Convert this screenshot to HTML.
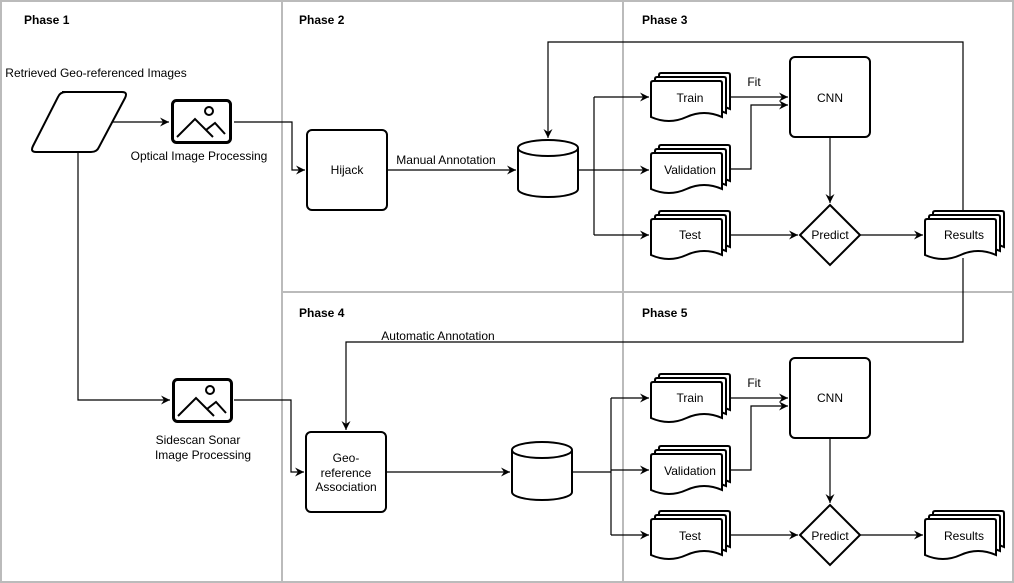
<!DOCTYPE html>
<html><head><meta charset="utf-8"><style>
html,body{margin:0;padding:0;background:#fff}
svg{display:block;font-family:"Liberation Sans",sans-serif}
</style></head><body>
<svg width="1014" height="583" viewBox="0 0 1014 583" xmlns="http://www.w3.org/2000/svg">
<defs>
<marker id="a" markerWidth="10" markerHeight="10" refX="9" refY="5" orient="auto" markerUnits="userSpaceOnUse">
<path d="M0,0.5 L9,5 L0,9.5 L3,5 Z" fill="#000"/></marker>
<g id="doc"><path d="M2,0 H69 Q71,0 71,2 V36 Q53,28 35.5,36 T0,36 V2 Q0,0 2,0 Z" fill="#fff" stroke="#000" stroke-width="2"/></g>
<g id="md"><use href="#doc" x="8" y="-8"/><use href="#doc" x="4" y="-4"/><use href="#doc"/></g>
<g id="img"><rect x="1.5" y="1.5" width="58" height="42" rx="4" fill="#fff" stroke="#000" stroke-width="3"/>
<circle cx="38" cy="12" r="4" fill="none" stroke="#000" stroke-width="2"/>
<polyline points="6,38 24,20 42,38" fill="none" stroke="#000" stroke-width="2"/>
<polyline points="35,31 44,24 54,35" fill="none" stroke="#000" stroke-width="2"/></g>
</defs>
<rect x="1" y="1" width="1012" height="581" fill="none" stroke="#bbb" stroke-width="2"/>
<line x1="282" y1="1" x2="282" y2="582" stroke="#bbb" stroke-width="2"/>
<line x1="623" y1="1" x2="623" y2="582" stroke="#bbb" stroke-width="2"/>
<line x1="282" y1="292" x2="1013" y2="292" stroke="#bbb" stroke-width="2"/>
<g font-size="12" font-weight="bold">
<text x="24" y="24">Phase 1</text><text x="299" y="24">Phase 2</text><text x="642" y="24">Phase 3</text>
<text x="299" y="317">Phase 4</text><text x="642" y="317">Phase 5</text></g>
<g fill="none" stroke="#000" stroke-width="1.2">
<path d="M112,122 H169" marker-end="url(#a)"/>
<path d="M234,122 H292 V170 H305" marker-end="url(#a)"/>
<path d="M78,152 V400 H170" marker-end="url(#a)"/>
<path d="M234,400 H291 V472 H304" marker-end="url(#a)"/>
<path d="M387,170 H516" marker-end="url(#a)"/>
<path d="M963,211 V42 H548 V138" marker-end="url(#a)"/>
<path d="M578,170 H594 M594,97 V235"/>
<path d="M594,97 H649" marker-end="url(#a)"/><path d="M594,170 H649" marker-end="url(#a)"/><path d="M594,235 H649" marker-end="url(#a)"/>
<path d="M730,97 H788" marker-end="url(#a)"/>
<path d="M730,169 H751 V105 H788" marker-end="url(#a)"/>
<path d="M830,137 V203" marker-end="url(#a)"/>
<path d="M730,235 H798" marker-end="url(#a)"/>
<path d="M860,235 H923" marker-end="url(#a)"/>
<path d="M963,258 V342 H346 V430" marker-end="url(#a)"/>
<path d="M386,472 H510" marker-end="url(#a)"/>
<path d="M572,472 H611 M611,398 V535"/>
<path d="M611,398 H649" marker-end="url(#a)"/><path d="M611,470 H649" marker-end="url(#a)"/><path d="M611,535 H649" marker-end="url(#a)"/>
<path d="M730,398 H788" marker-end="url(#a)"/>
<path d="M730,470 H751 V406 H788" marker-end="url(#a)"/>
<path d="M830,438 V503" marker-end="url(#a)"/>
<path d="M730,535 H798" marker-end="url(#a)"/>
<path d="M860,535 H923" marker-end="url(#a)"/>
</g>
<g fill="#fff" stroke="#000" stroke-width="2">
<path d="M62,92 H122 Q128,92 125,98 L99,147 Q97,152 91,152 H36 Q30,152 33,146 L58,97 Q60,92 66,92 Z"/>
<rect x="307" y="130" width="80" height="80" rx="5"/>
<rect x="306" y="432" width="80" height="80" rx="5"/>
<rect x="790" y="57" width="80" height="80" rx="5"/>
<rect x="790" y="358" width="80" height="80" rx="5"/>
<path d="M830,205 L860,235 L830,265 L800,235 Z"/>
<path d="M830,505 L860,535 L830,565 L800,535 Z"/>
<path d="M518,148 V189 A30,8 0 0 0 578,189 V148 A30,8 0 0 0 518,148 Z"/>
<path d="M518,148 A30,8 0 0 0 578,148" fill="none"/>
<path d="M512,450 V492 A30,8 0 0 0 572,492 V450 A30,8 0 0 0 512,450 Z"/>
<path d="M512,450 A30,8 0 0 0 572,450" fill="none"/>
</g>
<use href="#img" x="171" y="99"/>
<use href="#img" x="172" y="378"/>
<use href="#md" x="651" y="81"/><use href="#md" x="651" y="153"/><use href="#md" x="651" y="219"/><use href="#md" x="925" y="219"/>
<use href="#md" x="651" y="382"/><use href="#md" x="651" y="454"/><use href="#md" x="651" y="519"/><use href="#md" x="925" y="519"/>
<g font-size="12" text-anchor="middle" fill="#000">
<text x="96" y="77">Retrieved Geo-referenced Images</text>
<text x="199" y="160">Optical Image Processing</text>
<text x="198" y="444">Sidescan Sonar</text><text x="203" y="459">Image Processing</text>
<text x="347" y="174">Hijack</text>
<text x="446" y="164">Manual Annotation</text>
<text x="438" y="340">Automatic Annotation</text>
<text x="346" y="462">Geo-</text><text x="346" y="477">reference</text><text x="346" y="491">Association</text>
<text x="690" y="102">Train</text><text x="690" y="174">Validation</text><text x="690" y="239">Test</text><text x="964" y="239">Results</text>
<text x="690" y="402">Train</text><text x="690" y="475">Validation</text><text x="690" y="540">Test</text><text x="964" y="540">Results</text>
<text x="754" y="86">Fit</text><text x="754" y="387">Fit</text>
<text x="830" y="102">CNN</text><text x="830" y="402">CNN</text>
<text x="830" y="239">Predict</text><text x="830" y="540">Predict</text>
</g>
</svg>
</body></html>
